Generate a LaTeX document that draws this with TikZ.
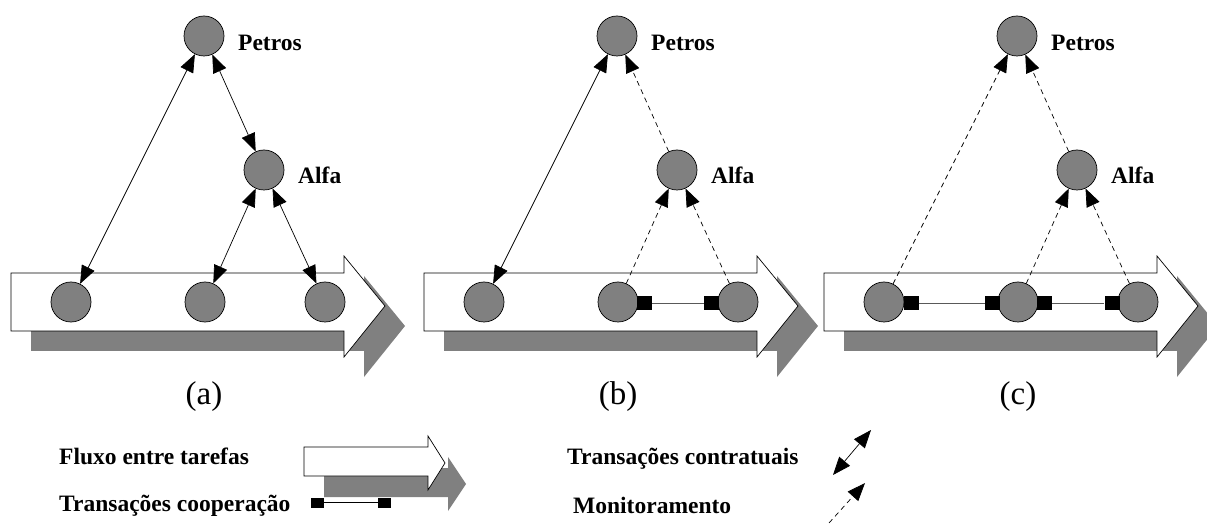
\documentclass[tikz,border=0pt]{standalone}
\usepackage{fontspec}
\setmainfont{Liberation Serif}
\usetikzlibrary{arrows.meta}
\begin{document}
\begin{tikzpicture}[x=1pt,y=-1pt,
 agent/.style={circle,draw=black,fill=gray,minimum size=40pt,inner sep=0pt,line width=0.7pt},
 lbl/.style={font=\bfseries\fontsize{23.5}{26}\selectfont, inner sep=0pt},
 sublbl/.style={font=\fontsize{33}{36}\selectfont, inner sep=0pt},
 contract/.style={{Triangle[length=18pt,width=14pt]}-{Triangle[length=18pt,width=14pt]}, line width=0.7pt},
 monitor/.style={-{Triangle[length=18pt,width=14pt]}, dash pattern=on 5pt off 4pt, line width=0.7pt},
 coop/.style={draw=gray!70!black, line width=0.8pt},
 sq/.style={rectangle, fill=black, minimum width=15pt, minimum height=14pt, inner sep=0pt},
 lsq/.style={rectangle, fill=black, minimum width=13pt, minimum height=10pt, inner sep=0pt},
 flow/.style={fill=white,draw=black,line width=0.7pt},
 flowshadow/.style={fill=gray}]
\useasboundingbox (0,0) rectangle (1207,526);

% flow arrows with shadows
\foreach \dx in {0,413,813}{
  \begin{scope}[xshift=\dx pt]
    \fill[flowshadow] (31,293) -- (364,293) -- (364,276) -- (405,326) -- (364,377) -- (364,351) -- (31,351) -- cycle;
    \draw[flow] (11,273) -- (344,273) -- (344,256) -- (385,306) -- (344,357) -- (344,331) -- (11,331) -- cycle;
  \end{scope}
}

% agents
\foreach \p/\dx in {a/0,b/413,c/813}{
  \begin{scope}[xshift=\dx pt]
    \node[agent] (P\p) at (204,36) {};
    \node[agent] (A\p) at (264,170) {};
    \node[agent] (T\p1) at (71,302) {};
    \node[agent] (T\p2) at (205,302) {};
    \node[agent] (T\p3) at (325,302) {};
    \node[lbl,anchor=base west] (LP\p) at (238,51) {Petros};
    \node[lbl,anchor=base west] (LA\p) at (298,184) {Alfa};
  \end{scope}
}
\node[sublbl,anchor=base] (sa) at (204,404) {(a)};
\node[sublbl,anchor=base] (sb) at (618,404) {(b)};
\node[sublbl,anchor=base] (sc) at (1018,404) {(c)};

% panel (a)
\draw[contract] (Pa) -- (Ta1);
\draw[contract] (Pa) -- (Aa);
\draw[contract] (Aa) -- (Ta2);
\draw[contract] (Aa) -- (Ta3);

% panel (b)
\draw[contract] (Pb) -- (Tb1);
\draw[monitor] (Ab) -- (Pb);
\draw[monitor] (Tb2) -- (Ab);
\draw[monitor] (Tb3) -- (Ab);
\node[sq] (qb1) at (644.5,303) {};
\node[sq] (qb2) at (711.5,303) {};
\draw[coop] (qb1) -- (qb2);

% panel (c)
\draw[monitor] (Tc1) -- (Pc);
\draw[monitor] (Ac) -- (Pc);
\draw[monitor] (Tc2) -- (Ac);
\draw[monitor] (Tc3) -- (Ac);
\node[sq] (qc1) at (911.5,303) {};
\node[sq] (qc2) at (992.5,303) {};
\node[sq] (qc3) at (1044.5,303) {};
\node[sq] (qc4) at (1112,303) {};
\draw[coop] (qc1) -- (qc2);
\draw[coop] (qc3) -- (qc4);

% legend
\fill[flowshadow] (324,468) -- (448,468) -- (448,457) -- (466,484) -- (448,511) -- (448,497) -- (324,497) -- cycle;
\draw[flow] (304,447) -- (428,447) -- (428,436) -- (445,463) -- (428,490) -- (428,476) -- (304,476) -- cycle;
\node[lbl,anchor=base west] (l1) at (59,464) {Fluxo entre tarefas};
\node[lbl,anchor=base west] (l2) at (59,511) {Transações cooperação};
\node[lsq] (lq1) at (317.5,502.5) {};
\node[lsq] (lq2) at (384.5,502.5) {};
\draw[line width=0.8pt] (lq1) -- (lq2);
\node[lbl,anchor=base west] (l3) at (567,464) {Transações contratuais};
\node[lbl,anchor=base west] (l4) at (573,513) {Monitoramento};
\coordinate (ca) at (833,475);
\coordinate (cb) at (871,430);
\draw[contract] (ca) -- (cb);
\coordinate (ma) at (829,523);
\coordinate (mb) at (865,483);
\draw[monitor] (ma) -- (mb);
\end{tikzpicture}
\end{document}
